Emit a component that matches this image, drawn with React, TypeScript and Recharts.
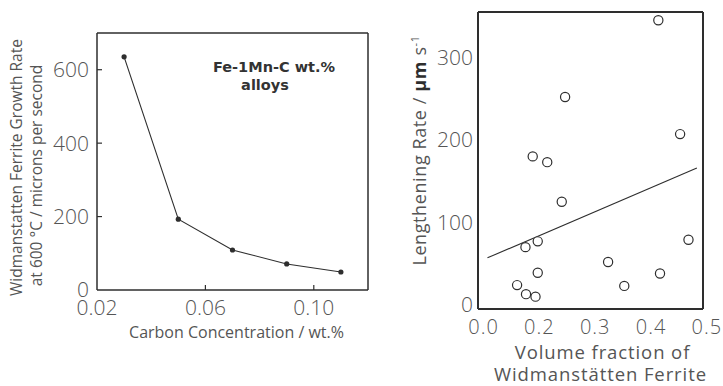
import { ComposedChart, Line, Scatter, XAxis, YAxis, Label } from 'recharts';

// left panel: Fe-1Mn-C alloys, growth rate vs carbon
const carbonContent = [0.03, 0.05, 0.07, 0.09, 0.11];
const growthRate = [635, 193, 109, 71, 49];

// right panel: lengthening rate vs volume fraction
const volumeFraction = [0.413, 0.246, 0.452, 0.188, 0.214, 0.24, 0.197, 0.175, 0.467, 0.323, 0.197, 0.416, 0.16, 0.352, 0.176, 0.193];
const lengtheningRate = [345, 252, 207, 180, 173, 125, 77, 70, 79, 52, 39, 38, 24, 23, 13, 10];

// fitted line end points
const fitX = [0.107, 0.482];
const fitY = [57, 166];

const leftXTicks = [0.02, 0.06, 0.1];
const leftYTicks = [0, 200, 400, 600];
const rightXTicks = [0.1, 0.2, 0.3, 0.4, 0.5];
const rightXTickLabels = ['0.0', '0.2', '0.3', '0.4', '0.5'];
const rightYTicks = [0, 100, 200, 300];

const growthData = carbonContent.map((c, i) => ({ c, rate: growthRate[i] }));
const lengthData = volumeFraction.map((f, i) => ({ f, rate: lengtheningRate[i] }));
const fitData = fitX.map((f, i) => ({ f, rate: fitY[i] }));

const INK = '#2e2e2e';
const GREY = '#555';
const SANS = '"Open Sans", "Liberation Sans", Arial, sans-serif';
const tickFont = { fontFamily: SANS, fontSize: 21, fontWeight: 300, fill: GREY };
const TICK_LEN = 5;

function LeftYTick(props: any) {
  const { x, y, payload } = props;
  const ax = x + 8;
  return (
    <g>
      {payload.value !== 0 && <line x1={ax} x2={ax + TICK_LEN} y1={y} y2={y} stroke={INK} strokeWidth={1.2} />}
      <text x={x} y={y} dy="0.355em" textAnchor="end" {...tickFont}>
        {payload.value}
      </text>
    </g>
  );
}

function LeftXTick(props: any) {
  const { x, y, payload } = props;
  const ay = y - 10;
  return (
    <g>
      {payload.value !== leftXTicks[0] && (
        <line x1={x} x2={x} y1={ay} y2={ay - TICK_LEN} stroke={INK} strokeWidth={1.2} />
      )}
      <text x={x} y={y} dy="0.71em" textAnchor="middle" {...tickFont}>
        {payload.value.toFixed(2)}
      </text>
    </g>
  );
}

function TopTick(props: any) {
  const { x, y, payload } = props;
  if (payload.value === leftXTicks[0]) return null;
  return <line x1={x} x2={x} y1={y} y2={y + TICK_LEN} stroke={INK} strokeWidth={1.2} />;
}

function RightTick(props: any) {
  const { x, y, payload } = props;
  if (payload.value === 0) return null;
  return <line x1={x - TICK_LEN} x2={x} y1={y} y2={y} stroke={INK} strokeWidth={1.2} />;
}

function VolXTick(props: any) {
  const { x, y, payload } = props;
  const i = rightXTicks.indexOf(payload.value);
  return (
    <text x={x} y={y} dy="0.71em" textAnchor="middle" letterSpacing={1} {...tickFont} fontSize={20}>
      {rightXTickLabels[i]}
    </text>
  );
}

function GrowthYLabel(props: any) {
  const vb = props.viewBox;
  const cy = vb.y + vb.height / 2;
  const x1 = vb.x + vb.width - 80;
  const x2 = vb.x + vb.width - 60;
  const style = { fontFamily: SANS, fontSize: 15.5, fill: GREY };
  return (
    <g>
      <text x={x1} y={cy + 6} transform={`rotate(-90 ${x1} ${cy + 6})`} textAnchor="middle" dy="0.35em" {...style}>
        Widmanstatten Ferrite Growth Rate
      </text>
      <text x={x2} y={cy + 14} transform={`rotate(-90 ${x2} ${cy + 14})`} textAnchor="middle" dy="0.35em" {...style}>
        at 600 °C / microns per second
      </text>
    </g>
  );
}

function LengthYLabel(props: any) {
  const vb = props.viewBox;
  const cy = vb.y + vb.height / 2 - 10;
  const cx = vb.x + vb.width - 58;
  return (
    <text
      x={cx}
      y={cy}
      transform={`rotate(-90 ${cx} ${cy})`}
      textAnchor="middle"
      dy="0.35em"
      fontFamily={SANS}
      fontSize={18}
      letterSpacing={0.6}
      fill={GREY}
    >
      Lengthening Rate /{' '}
      <tspan fontWeight="bold" fill={INK}>
        μm
      </tspan>{' '}
      s
      <tspan dy={-7} fontSize={11}>
        -1
      </tspan>
    </text>
  );
}

function VolXLabel(props: any) {
  const vb = props.viewBox;
  const cx = vb.x + vb.width / 2;
  const style = { fontFamily: SANS, fontSize: 18.5, fill: GREY, letterSpacing: 0.9 };
  return (
    <g>
      <text x={cx + 12} y={vb.y + 50} textAnchor="middle" {...style}>
        Volume fraction of
      </text>
      <text x={cx + 10} y={vb.y + 72} textAnchor="middle" {...style}>
        Widmanstätten Ferrite
      </text>
    </g>
  );
}

function CarbonXLabel(props: any) {
  const vb = props.viewBox;
  return (
    <text
      x={vb.x + vb.width / 2 + 4}
      y={vb.y + 48}
      textAnchor="middle"
      fontFamily={SANS}
      fontSize={16}
      fill={GREY}
    >
      Carbon Concentration / wt.%
    </text>
  );
}

function OpenCircle(props: any) {
  const { cx, cy } = props;
  return <circle cx={cx} cy={cy} r={4.6} fill="#fff" stroke={INK} strokeWidth={1.2} />;
}

export default function App() {
  return (
    <div style={{ position: 'absolute', left: 0, top: 0, width: 723, height: 386, background: '#fff' }}>
      <div style={{ position: 'absolute', left: 0, top: 0 }}>
        <ComposedChart width={380} height={386} margin={{ top: 32, right: 11, bottom: 95, left: 96 }}>
          <XAxis
            xAxisId="b"
            dataKey="c"
            type="number"
            domain={[0.02, 0.12]}
            ticks={leftXTicks}
            interval={0}
            height={1}
            tickSize={0}
            tickMargin={10}
            tick={<LeftXTick />}
            axisLine={{ stroke: INK, strokeWidth: 1.5 }}
            tickLine={false}
          >
            <Label position="bottom" content={<CarbonXLabel />} />
          </XAxis>
          <XAxis
            xAxisId="t"
            orientation="top"
            type="number"
            domain={[0.02, 0.12]}
            ticks={leftXTicks}
            interval={0}
            height={1}
            tickSize={0}
            tickMargin={0}
            tick={<TopTick />}
            axisLine={{ stroke: INK, strokeWidth: 1.5 }}
            tickLine={false}
          />
          <YAxis
            yAxisId="l"
            type="number"
            domain={[0, 700]}
            ticks={leftYTicks}
            interval={0}
            width={1}
            tickSize={0}
            tickMargin={8}
            tick={<LeftYTick />}
            axisLine={{ stroke: INK, strokeWidth: 1.5 }}
            tickLine={false}
          >
            <Label position="left" content={<GrowthYLabel />} />
          </YAxis>
          <YAxis
            yAxisId="r"
            orientation="right"
            type="number"
            domain={[0, 700]}
            ticks={leftYTicks}
            interval={0}
            width={1}
            tickSize={0}
            tickMargin={0}
            tick={<RightTick />}
            axisLine={{ stroke: INK, strokeWidth: 1.5 }}
            tickLine={false}
          />
          <Line
            xAxisId="b"
            yAxisId="l"
            data={growthData}
            dataKey="rate"
            type="linear"
            stroke={INK}
            strokeWidth={1.1}
            dot={{ r: 2.6, fill: INK, stroke: INK, strokeWidth: 0 }}
            isAnimationActive={false}
          />
        </ComposedChart>
      </div>
      <div
        style={{
          position: 'absolute',
          left: 194,
          top: 58,
          width: 160,
          textAlign: 'center',
          fontFamily: '"DejaVu Sans", sans-serif',
          fontWeight: 'bold',
          fontSize: 14.5,
          lineHeight: '18px',
          color: '#333',
        }}
      >
        Fe-1Mn-C wt.%
        <br />
        <span style={{ marginLeft: -18 }}>alloys</span>
      </div>
      <div style={{ position: 'absolute', left: 380, top: 0 }}>
        <ComposedChart width={343} height={386} margin={{ top: 11, right: 19, bottom: 76, left: 97 }}>
          <XAxis
            xAxisId="b"
            dataKey="f"
            type="number"
            domain={[0.09, 0.493]}
            ticks={rightXTicks}
            interval={0}
            height={1}
            tickSize={0}
            tickMargin={11}
            tick={<VolXTick />}
            axisLine={{ stroke: INK, strokeWidth: 2 }}
            tickLine={false}
          >
            <Label position="bottom" content={<VolXLabel />} />
          </XAxis>
          <XAxis
            xAxisId="t"
            orientation="top"
            type="number"
            domain={[0.09, 0.493]}
            height={1}
            tick={false}
            axisLine={{ stroke: INK, strokeWidth: 2 }}
            tickLine={false}
          />
          <YAxis
            yAxisId="l"
            dataKey="rate"
            type="number"
            domain={[-5, 355]}
            ticks={rightYTicks}
            interval={0}
            width={1}
            tickSize={0}
            tickMargin={5}
            tick={tickFont}
            axisLine={{ stroke: INK, strokeWidth: 2 }}
            tickLine={false}
          >
            <Label position="left" content={<LengthYLabel />} />
          </YAxis>
          <YAxis
            yAxisId="r"
            orientation="right"
            type="number"
            domain={[-5, 355]}
            width={1}
            tick={false}
            axisLine={{ stroke: INK, strokeWidth: 2 }}
            tickLine={false}
          />
          <Line
            xAxisId="b"
            yAxisId="l"
            data={fitData}
            dataKey="rate"
            type="linear"
            stroke={INK}
            strokeWidth={1.1}
            dot={false}
            isAnimationActive={false}
          />
          <Scatter
            xAxisId="b"
            yAxisId="l"
            data={lengthData}
            dataKey="rate"
            shape={<OpenCircle />}
            isAnimationActive={false}
          />
        </ComposedChart>
      </div>
    </div>
  );
}
